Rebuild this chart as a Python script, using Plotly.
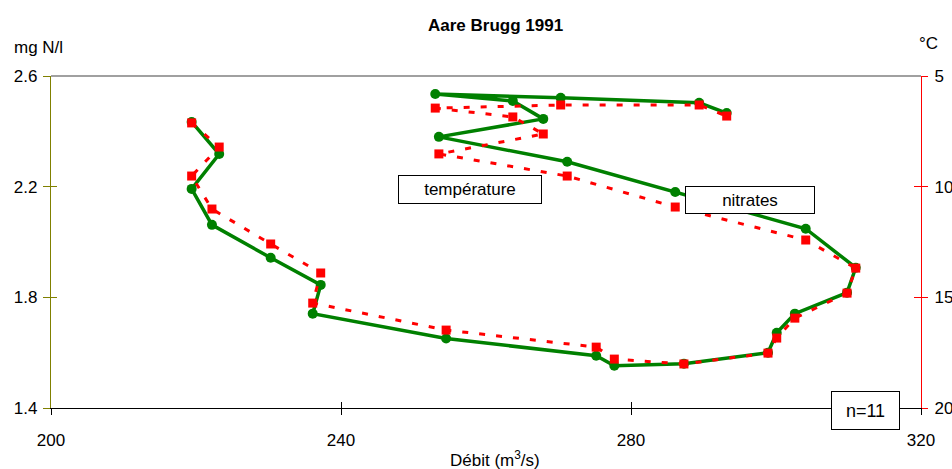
import plotly.graph_objects as go

# ---- data ----
debit = [219.4, 223.2, 219.4, 222.2, 230.3, 237.2, 236.1, 254.5, 275.2, 277.7,
         287.3, 298.9, 300.1, 302.6, 309.8, 311.0, 304.1, 286.1, 271.2, 253.5,
         267.9, 263.7, 253.0, 270.3, 289.4, 293.2]
nitrates = [2.434, 2.318, 2.192, 2.062, 1.943, 1.845, 1.741, 1.651, 1.589, 1.553,
            1.560, 1.600, 1.672, 1.741, 1.817, 1.907, 2.048, 2.181, 2.290, 2.380,
            2.445, 2.510, 2.535, 2.521, 2.503, 2.466]
temperature = [7.12, 8.21, 9.52, 11.01, 12.59, 13.90, 15.26, 16.48, 17.25, 17.79,
               18.01, 17.52, 16.84, 15.94, 14.81, 13.68, 12.41, 10.92, 9.52, 8.52,
               7.62, 6.85, 6.45, 6.31, 6.31, 6.81]

x_ticks = [200, 240, 280, 320]
y_ticks = [1.4, 1.8, 2.2, 2.6]
t_ticks = [5, 10, 15, 20]

FONT = "Liberation Sans, Arial, sans-serif"
OLIVE = "#808000"
GREEN = "#008000"
RED = "#ff0000"

fig = go.Figure()

fig.add_trace(go.Scatter(
    x=debit, y=nitrates, mode="lines+markers", name="nitrates",
    line=dict(color=GREEN, width=3.5),
    marker=dict(symbol="circle", size=10, color=GREEN),
    xaxis="x", yaxis="y", showlegend=False))

fig.add_trace(go.Scatter(
    x=debit, y=temperature, mode="lines+markers", name="température",
    line=dict(color=RED, width=3, dash="6px,11px"),
    marker=dict(symbol="square", size=9, color=RED),
    xaxis="x", yaxis="y2", showlegend=False))

# dummy traces to make inside-tick overlay axes render
fig.add_trace(go.Scatter(x=[None], y=[None], xaxis="x2", yaxis="y3",
                         showlegend=False, hoverinfo="skip"))
fig.add_trace(go.Scatter(x=[None], y=[None], xaxis="x2", yaxis="y4",
                         showlegend=False, hoverinfo="skip"))

xr = [200, 320]
fig.update_layout(
    width=952, height=469,
    margin=dict(l=51, r=31, t=76, b=61, autoexpand=False),
    paper_bgcolor="white", plot_bgcolor="white",
    font=dict(family=FONT, size=17, color="black"),
    xaxis=dict(range=xr, tickvals=x_ticks, ticks="outside", ticklen=6,
               tickcolor="black", tickwidth=1, showline=True, linecolor="black",
               linewidth=1.3, showgrid=False, zeroline=False, automargin=False,
               tickfont=dict(size=17), ticklabelstandoff=10),
    xaxis2=dict(range=xr, overlaying="x", side="bottom", tickvals=x_ticks,
                ticks="inside", ticklen=6, tickcolor="black", tickwidth=1,
                showticklabels=False, showline=False, showgrid=False,
                zeroline=False, automargin=False),
    yaxis=dict(range=[1.4, 2.6], tickvals=y_ticks, ticktext=["1.4", "1.8", "2.2", "2.6"],
               ticks="outside", ticklen=7, tickcolor=OLIVE, tickwidth=1.3,
               showline=True, linecolor=OLIVE, linewidth=1.3, showgrid=False,
               zeroline=False, automargin=False, tickfont=dict(size=17),
               ticklabelstandoff=2),
    yaxis3=dict(range=[1.4, 2.6], overlaying="y", side="left", tickvals=y_ticks,
                ticks="inside", ticklen=6, tickcolor=OLIVE, tickwidth=1.3,
                showticklabels=False, showline=False, showgrid=False,
                zeroline=False, automargin=False),
    yaxis2=dict(range=[20, 5], overlaying="y", side="right", tickvals=t_ticks,
                ticks="outside", ticklen=6, tickcolor=RED, tickwidth=1.3,
                showline=True, linecolor=RED, linewidth=1.3, showgrid=False,
                zeroline=False, automargin=False, tickfont=dict(size=17),
                ticklabelstandoff=3),
    yaxis4=dict(range=[20, 5], overlaying="y", side="right", tickvals=t_ticks,
                ticks="inside", ticklen=7, tickcolor=RED, tickwidth=1.3,
                showticklabels=False, showline=False, showgrid=False,
                zeroline=False, automargin=False),
)

# top frame line
fig.add_shape(type="line", xref="paper", yref="paper", x0=0, x1=1, y0=1, y1=1,
              line=dict(color="#808080", width=1.5))

ann = []
ann.append(dict(text="<b>Aare Brugg 1991</b>", xref="paper", yref="paper",
                x=(495 - 51) / 870, y=(408 - 26) / 332, xanchor="center",
                yanchor="middle", showarrow=False, font=dict(size=17)))
ann.append(dict(text="mg N/l", xref="paper", yref="paper",
                x=(12 - 51) / 870, y=(408 - 47) / 332, xanchor="left",
                yanchor="middle", showarrow=False, font=dict(size=17)))
ann.append(dict(text="°C", xref="paper", yref="paper",
                x=(917 - 51) / 870, y=(408 - 44) / 332, xanchor="left",
                yanchor="middle", showarrow=False, font=dict(size=17)))
ann.append(dict(text="Débit (m<sup>3</sup>/s)", xref="paper", yref="paper",
                x=(495 - 51) / 870, y=(408 - 459) / 332, xanchor="center",
                yanchor="middle", showarrow=False, font=dict(size=17)))
# label boxes
ann.append(dict(text="température", xref="x", yref="y", x=257.8, y=2.188,
                showarrow=False, bordercolor="black", borderwidth=1,
                bgcolor="white", width=140, height=25, font=dict(size=17)))
ann.append(dict(text="nitrates", xref="x", yref="y", x=296.4, y=2.152,
                showarrow=False, bordercolor="black", borderwidth=1,
                bgcolor="white", width=126, height=24, font=dict(size=17)))
ann.append(dict(text="n=11", xref="paper", yref="paper",
                x=(865 - 51) / 870, y=(408 - 410) / 332,
                xanchor="center", yanchor="middle",
                showarrow=False, bordercolor="black", borderwidth=1,
                bgcolor="white", width=65, height=35, font=dict(size=18)))
fig.update_layout(annotations=ann)

fig.write_html("out.html", config={"displayModeBar": False},
               post_script="document.body.style.margin='0';document.body.style.overflow='hidden';")
